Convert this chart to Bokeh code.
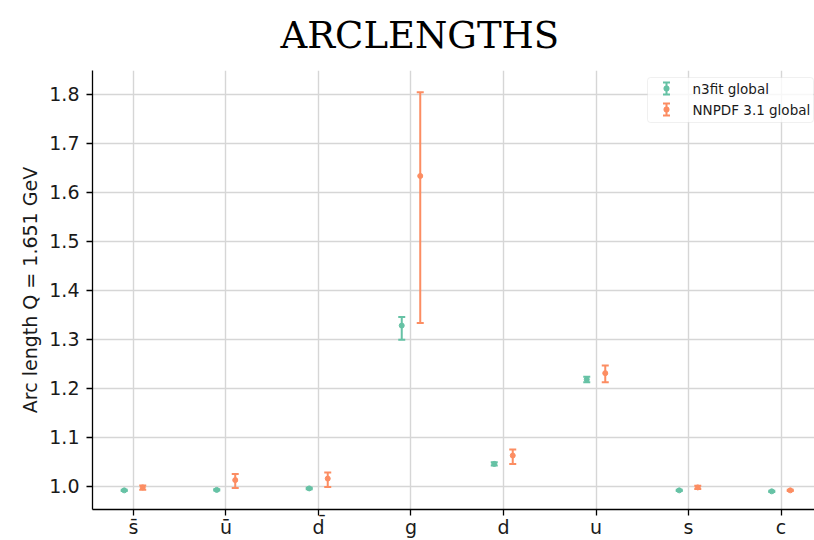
from bokeh.plotting import figure
from bokeh.models import (ColumnDataSource, FixedTicker, Label, Title,
                          Range1d, PrintfTickFormatter, Arrow, TeeHead,
                          BoxAnnotation)
from bokeh.embed import file_html
from bokeh.resources import INLINE

# Flavours on the x axis
flavours = ["s̄", "ū", "d̄", "g", "d", "u", "s", "c"]

# n3fit global: central value and error-band edges
n3fit_cv = [0.992, 0.993, 0.996, 1.328, 1.046, 1.218, 0.992, 0.990]
n3fit_lo = [0.9905, 0.9915, 0.9945, 1.299, 1.0425, 1.2125, 0.9905, 0.9888]
n3fit_hi = [0.9935, 0.9945, 0.9975, 1.3455, 1.0495, 1.2235, 0.9935, 0.9912]

# NNPDF 3.1 global: central value and error-band edges
nnpdf_cv = [0.998, 1.013, 1.016, 1.633, 1.063, 1.231, 0.998, 0.992]
nnpdf_lo = [0.9935, 0.9967, 0.9988, 1.333, 1.0457, 1.2123, 0.9947, 0.9905]
nnpdf_hi = [1.0020, 1.0253, 1.0286, 1.8035, 1.0755, 1.2464, 1.0014, 0.9935]

series_labels = ["n3fit global", "NNPDF 3.1 global"]
y_ticks = [1.0, 1.1, 1.2, 1.3, 1.4, 1.5, 1.6, 1.7, 1.8]

GREEN = "#66c2a5"
ORANGE = "#fc8d62"
FONT = "DejaVu Sans"

p = figure(width=814, height=540, output_backend="svg", toolbar_location=None,
           x_range=Range1d(-0.443, 7.362), y_range=Range1d(0.953, 1.848),
           min_border_left=92, min_border_right=0, min_border_top=70,
           min_border_bottom=29)
p.outline_line_color = None
p.background_fill_color = "white"
p.border_fill_color = "white"

p.title = Title(text="ARCLENGTHS", align="left", offset=188,
                vertical_align="top", text_font="DejaVu Serif",
                text_font_size="37px", text_font_style="normal",
                text_color="black", standoff=24)


def draw_series(offset, cv, lo, hi, color):
    xs = [i + offset for i in range(len(cv))]
    src = ColumnDataSource(dict(x=xs, cv=cv, lo=lo, hi=hi))
    p.segment(x0="x", y0="lo", x1="x", y1="hi", source=src,
              line_color=color, line_width=2)
    p.scatter(x="x", y="lo", source=src, marker="dash", size=7,
              line_color=color, line_width=2)
    p.scatter(x="x", y="hi", source=src, marker="dash", size=7,
              line_color=color, line_width=2)
    p.scatter(x="x", y="cv", source=src, marker="circle", size=5,
              fill_color=color, line_color=color)


draw_series(-0.1, n3fit_cv, n3fit_lo, n3fit_hi, GREEN)
draw_series(0.1, nnpdf_cv, nnpdf_lo, nnpdf_hi, ORANGE)

# axes
p.xaxis.ticker = FixedTicker(ticks=list(range(len(flavours))))
p.xaxis.major_label_overrides = {i: f for i, f in enumerate(flavours)}
p.yaxis.ticker = FixedTicker(ticks=y_ticks)
p.yaxis.formatter = PrintfTickFormatter(format="%.1f")
p.yaxis.axis_label = "Arc length Q = 1.651 GeV"

for ax in (p.xaxis, p.yaxis):
    ax.axis_line_color = "black"
    ax.axis_line_width = 1.3
    ax.major_tick_line_color = "black"
    ax.major_tick_line_width = 1.3
    ax.major_tick_out = 6
    ax.major_tick_in = 0
    ax.minor_tick_line_color = None
    ax.major_label_text_font = FONT
    ax.major_label_text_font_size = "19px"
    ax.major_label_text_color = "#1a1a1a"
    ax.axis_label_text_font = FONT
    ax.axis_label_text_font_size = "19px"
    ax.axis_label_text_font_style = "normal"
    ax.axis_label_text_color = "#1a1a1a"

p.yaxis.major_label_standoff = 7
p.yaxis.axis_label_standoff = 5
p.xaxis.major_label_standoff = 0

p.xgrid.ticker = FixedTicker(ticks=list(range(len(flavours))))
p.ygrid.ticker = FixedTicker(ticks=y_ticks)
for g in (p.xgrid, p.ygrid):
    g.grid_line_color = "#d6d6d6"
    g.grid_line_width = 1.4

# legend, built from annotations in screen units (origin: frame bottom-left)
p.add_layout(BoxAnnotation(left=555, right=721, bottom=387, top=432,
                           left_units="screen", right_units="screen",
                           bottom_units="screen", top_units="screen",
                           fill_color="white", fill_alpha=0.8,
                           line_color="#cccccc", line_width=1,
                           border_radius=3))

for row, (label, color) in enumerate(zip(series_labels, [GREEN, ORANGE])):
    yc = 421 - 21 * row
    p.add_layout(Arrow(x_start=574, y_start=yc - 6, x_end=574, y_end=yc + 6,
                       start_units="screen", end_units="screen",
                       line_color=color, line_width=2,
                       start=TeeHead(size=7, line_color=color, line_width=2),
                       end=TeeHead(size=7, line_color=color, line_width=2)))
    p.add_layout(BoxAnnotation(left=571, right=577, bottom=yc - 3, top=yc + 3,
                               left_units="screen", right_units="screen",
                               bottom_units="screen", top_units="screen",
                               fill_color=color, fill_alpha=1,
                               line_color=None, border_radius=3))
    p.add_layout(Label(x=600, y=yc, x_units="screen", y_units="screen",
                       text=label, text_font=FONT, text_font_size="13.5px",
                       text_color="#1a1a1a", text_baseline="middle",
                       text_align="left"))

open("out.html", "w").write(file_html(p, INLINE))
